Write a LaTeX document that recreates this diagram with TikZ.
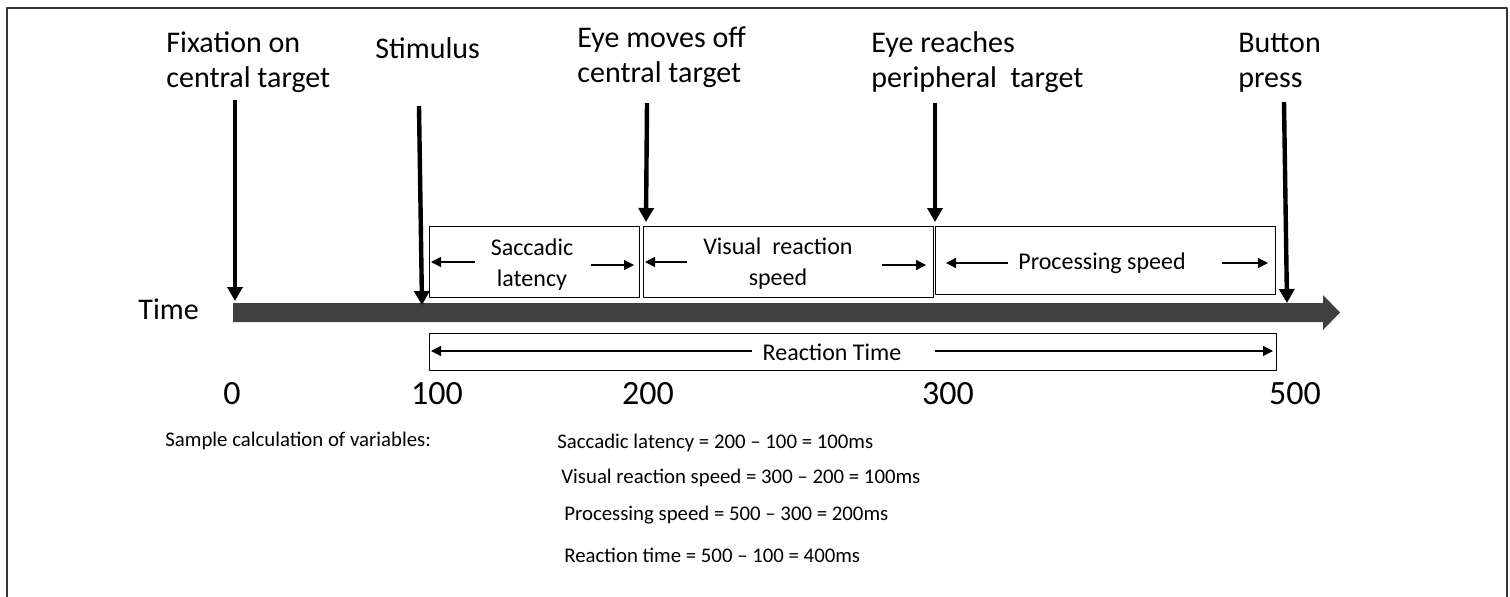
\documentclass[tikz,border=0pt]{standalone}
\usepackage{fontspec}
\setmainfont{Carlito}
\usetikzlibrary{arrows.meta}
\definecolor{bargray}{HTML}{404040}
\definecolor{framegray}{HTML}{333333}
\begin{document}
\begin{tikzpicture}[x=0.5pt, y=-0.5pt, line join=round, >=Stealth,
	event/.style={line width=2.2pt, -{Triangle[width=7.5pt,length=7pt]}},
	span/.style={line width=0.65pt, -{Triangle[width=5pt,length=5pt]}},
	segbox/.style={draw, line width=0.6pt, anchor=north west, inner sep=0pt},
	evlabel/.style={anchor=base west, align=left, inner sep=0pt, font=\fontsize{15}{17.5}\selectfont},
	seglabel/.style={align=center, inner sep=0pt, font=\fontsize{12}{15.5}\selectfont},
	tick/.style={anchor=base, inner sep=0pt, font=\fontsize{17}{20}\selectfont},
	calc/.style={anchor=base west, inner sep=0pt, font=\fontsize{10.4}{13}\selectfont}]
			\useasboundingbox (0,0) rectangle (1510,596);
			\draw[framegray, line width=1pt] (7,8) rectangle (1507,610);
			\path
			(235,100)coordinate(fixtop)
			(235,301)coordinate(fixtip)
			(419,106)coordinate(stimtop)
			(422,305)coordinate(stimtip)
			(647,103)coordinate(offtop)
			(646,222)coordinate(offtip)
			(935,103)coordinate(reachtop)
			(935,222)coordinate(reachtip)
			(1284,102)coordinate(presstop)
			(1287,303)coordinate(presstip)
			;
			\fill[bargray] (233,303) -- (1323,303) -- (1323,295) -- (1340,312.5) -- (1323,330) -- (1323,322) -- (233,322) -- cycle;
			\node[evlabel] (fix) at (166,87) {Fixation on\\central target};
			\node[evlabel] (stim) at (375,58) {Stimulus};
			\node[evlabel] (off) at (577,82) {Eye moves off\\central target};
			\node[evlabel] (reach) at (871,87) {Eye reaches\\peripheral~ target};
			\node[evlabel] (press) at (1238,87) {Button\\press};
			\draw[event] (fixtop) -- (fixtip);
			\draw[event] (stimtop) -- (stimtip);
			\draw[event] (offtop) -- (offtip);
			\draw[event] (reachtop) -- (reachtip);
			\draw[event] (presstop) -- (presstip);
			\node[segbox, minimum width=105pt, minimum height=35.5pt] (sacbox) at (429,226) {};
			\node[segbox, minimum width=145pt, minimum height=35.5pt] (visbox) at (643,226) {};
			\node[segbox, minimum width=170pt, minimum height=34pt] (procbox) at (935,226) {};
			\node[segbox, minimum width=423.5pt, minimum height=18.5pt] (rtbox) at (429,333) {};
			\node[seglabel] (sac) at (532,265) {Saccadic\\latency};
			\node[seglabel] (vis) at (778,264) {Visual~ reaction\\speed};
			\node[seglabel] (proc) at (1102,263) {Processing speed};
			\node[seglabel] (rt) at (832,352) {Reaction Time};
			\path
			(475,262)coordinate(sacl)
			(431,262)coordinate(sacltip)
			(591,265)coordinate(sacr)
			(634,265)coordinate(sacrtip)
			(687,262)coordinate(visl)
			(645,262)coordinate(visltip)
			(882,265)coordinate(visr)
			(926,265)coordinate(visrtip)
			(1008,263)coordinate(procl)
			(946,263)coordinate(procltip)
			(1222,263)coordinate(procr)
			(1268,263)coordinate(procrtip)
			(752,351)coordinate(rtl)
			(431,351)coordinate(rtltip)
			(935,351)coordinate(rtr)
			(1273,351)coordinate(rtrtip)
			;
			\draw[span] (sacl) -- (sacltip);
			\draw[span] (sacr) -- (sacrtip);
			\draw[span] (visl) -- (visltip);
			\draw[span] (visr) -- (visrtip);
			\draw[span] (procl) -- (procltip);
			\draw[span] (procr) -- (procrtip);
			\draw[span] (rtl) -- (rtltip);
			\draw[span] (rtr) -- (rtrtip);
			\node[evlabel] (time) at (138,319) {Time};
			\node[tick] (t0) at (232,404) {0};
			\node[tick] (t100) at (437,404) {100};
			\node[tick] (t200) at (648,404) {200};
			\node[tick] (t300) at (948,404) {300};
			\node[tick] (t500) at (1295,404) {500};
			\node[calc] (sample) at (165,446) {Sample calculation of variables:};
			\node[calc] (calcsac) at (557,448) {Saccadic latency = 200 – 100 = 100ms};
			\node[calc] (calcvis) at (561,483) {Visual reaction speed = 300 – 200 = 100ms};
			\node[calc] (calcproc) at (564,520) {Processing speed = 500 – 300 = 200ms};
			\node[calc] (calcrt) at (564,562) {Reaction time = 500 – 100 = 400ms};
	\end{tikzpicture}
\end{document}
